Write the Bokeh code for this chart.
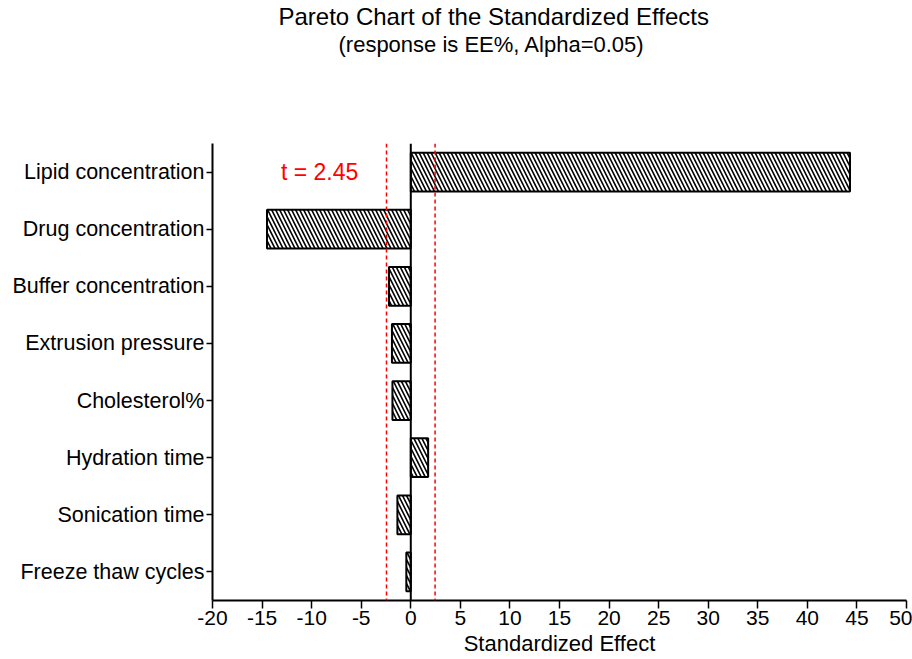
from bokeh.plotting import figure
from bokeh.models import FactorRange, Range1d, FixedTicker, Label, Span, ColumnDataSource, Title
from bokeh.embed import file_html
from bokeh.resources import INLINE

# Factors (top to bottom) and their standardized effects
factors = ["Lipid concentration", "Drug concentration", "Buffer concentration",
           "Extrusion pressure", "Cholesterol%", "Hydration time",
           "Sonication time", "Freeze thaw cycles"]
effects = [44.3, -14.5, -2.2, -1.9, -1.85, 1.75, -1.35, -0.45]
t_crit = 2.45
x_ticks = list(range(-20, 51, 5))
x_tick_labels = [str(t) for t in x_ticks]

title_text = "Pareto Chart of the Standardized Effects"
subtitle_text = "(response is EE%, Alpha=0.05)"

FONT = "Liberation Sans"

p = figure(width=912, height=659, output_backend="svg", toolbar_location=None,
           y_range=FactorRange(factors=list(reversed(factors))),
           x_range=Range1d(-20, 50),
           min_border_left=212, min_border_right=6, min_border_top=143, min_border_bottom=59)

src = ColumnDataSource(dict(y=factors, right=effects, left=[0] * len(effects)))
p.hbar(y="y", left="left", right="right", height=0.68, source=src,
       fill_color="white", line_color="black", line_width=2,
       hatch_pattern="\\", hatch_color="black", hatch_scale=8, hatch_weight=1.6)

# zero line
p.add_layout(Span(location=0, dimension="height", line_color="black", line_width=2))
# critical t lines
for loc in (-t_crit, t_crit):
    p.add_layout(Span(location=loc, dimension="height", line_color="red",
                      line_width=1.5, line_dash="4 3"))

p.add_layout(Label(x=-9.2, y=7.5, text=f"t = {t_crit}", text_color="red",
                   text_font=FONT, text_font_size="23px",
                   text_align="center", text_baseline="middle"))

# heading block: blank spacer next to the frame, then subtitle, then title
p.add_layout(Title(text=" ", text_font_size="1px", standoff=84), "above")
p.add_layout(Title(text=subtitle_text, text_font=FONT, text_font_size="22px",
                   text_font_style="normal", text_color="black",
                   align="left", offset=126, standoff=0), "above")
p.add_layout(Title(text=title_text, text_font=FONT, text_font_size="24px",
                   text_font_style="normal", text_color="black",
                   align="left", offset=66, standoff=0), "above")

p.xgrid.visible = False
p.ygrid.visible = False
p.outline_line_color = None

xa = p.xaxis[0]
xa.ticker = FixedTicker(ticks=x_ticks)
xa.major_label_overrides = dict(zip(x_ticks, x_tick_labels))
xa.minor_tick_line_color = None
xa.major_tick_in = 0
xa.major_tick_out = 8
xa.major_tick_line_width = 1.5
xa.axis_line_width = 2
xa.major_label_text_font = FONT
xa.major_label_text_font_size = "21px"
xa.major_label_text_color = "black"
xa.major_label_standoff = 2
xa.axis_label = "Standardized Effect"
xa.axis_label_text_font = FONT
xa.axis_label_text_font_style = "normal"
xa.axis_label_text_font_size = "22px"
xa.axis_label_text_color = "black"
xa.axis_label_standoff = 3

ya = p.yaxis[0]
ya.major_tick_in = 0
ya.major_tick_out = 6
ya.major_tick_line_width = 1.5
ya.axis_line_width = 2
ya.major_label_text_font = FONT
ya.major_label_text_font_size = "21.5px"
ya.major_label_text_color = "black"
ya.major_label_standoff = 2

open("out.html", "w").write(file_html(p, INLINE))
